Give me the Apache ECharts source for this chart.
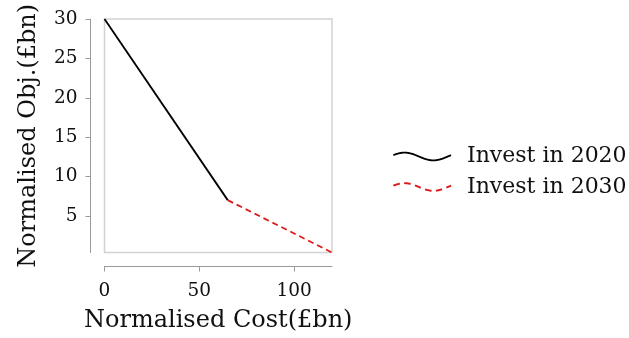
<!DOCTYPE html>
<html>
<head>
<meta charset="utf-8">
<script src="https://cdn.jsdelivr.net/npm/echarts@6/dist/echarts.min.js"></script>
<style>
  html, body { margin: 0; padding: 0; background: #ffffff; }
  #chart { width: 629px; height: 338px; }
</style>
</head>
<body>
<div id="chart"></div>
<script>
// Pareto front segments: normalised cost vs normalised objective
const cost2020 = [0, 65];
const obj2020 = [30, 7];
const cost2030 = [65, 120];
const obj2030 = [7, 0.35];

const seriesNames = ['Invest in 2020', 'Invest in 2030'];
const xTicks = [0, 50, 100];
const yTicks = [5, 10, 15, 20, 25, 30];

const FONT = 'DejaVu Serif';

function zip(xs, ys) {
  return xs.map((x, i) => [x, ys[i]]);
}

// Wavy legend glyph built as a filled ribbon (optionally broken into dashes).
// A trailing moveTo widens the bounding box to leave space before the label.
function wavePath(w, amp, thick, dash, gap, boxW) {
  const steps = 160;
  const pts = [];
  for (let i = 0; i <= steps; i++) {
    const t = i / steps;
    const x = t * w;
    const y = amp + thick / 2 - amp * Math.sin(2 * Math.PI * t + 0.35) * 0.95;
    pts.push([x, y]);
  }
  const len = [0];
  for (let i = 1; i < pts.length; i++) {
    const dx = pts[i][0] - pts[i - 1][0], dy = pts[i][1] - pts[i - 1][1];
    len.push(len[i - 1] + Math.hypot(dx, dy));
  }
  function ribbon(idx) {
    const top = [], bot = [];
    idx.forEach(i => {
      const a = pts[Math.max(i - 1, 0)], b = pts[Math.min(i + 1, pts.length - 1)];
      const dx = b[0] - a[0], dy = b[1] - a[1];
      const l = Math.hypot(dx, dy) || 1;
      const nx = -dy / l, ny = dx / l;
      top.push([pts[i][0] + nx * thick / 2, pts[i][1] + ny * thick / 2]);
      bot.push([pts[i][0] - nx * thick / 2, pts[i][1] - ny * thick / 2]);
    });
    const ring = top.concat(bot.reverse());
    return 'M' + ring.map(p => p[0].toFixed(2) + ' ' + p[1].toFixed(2)).join(' L') + ' Z';
  }
  let d = '';
  if (!dash) {
    d = ribbon(pts.map((_, i) => i));
  } else {
    const period = dash + gap;
    let cur = [];
    for (let i = 0; i < pts.length; i++) {
      const on = (len[i] % period) < dash;
      if (on) cur.push(i);
      if ((!on || i === pts.length - 1) && cur.length > 1) { d += ribbon(cur) + ' '; cur = []; }
      else if (!on) cur = [];
    }
  }
  d += ' M0 0 M' + boxW + ' ' + (2 * amp + thick);
  return 'path://' + d;
}

const chart = echarts.init(document.getElementById('chart'), null, { renderer: 'canvas' });

const axisGray = '#9a9a9a';

const option = {
  animation: false,
  backgroundColor: '#ffffff',
  grid: {
    left: 104.5,
    right: 297,
    top: 19,
    bottom: 85.5,
    show: true,
    borderColor: '#d2d2d2',
    borderWidth: 1.5,
    backgroundColor: 'transparent'
  },
  legend: {
    orient: 'vertical',
    left: 393,
    top: 145.5,
    padding: 0,
    itemGap: 8.5,
    itemWidth: 69,
    itemHeight: 10,
    symbolKeepAspect: false,
    itemStyle: { borderWidth: 0 },
    textStyle: { fontFamily: FONT, fontSize: 22, color: '#111111' },
    data: [
      { name: seriesNames[0], icon: wavePath(58, 4, 1.8, 0, 0, 69) },
      { name: seriesNames[1], icon: wavePath(58, 4, 1.9, 7, 4, 69) }
    ]
  },
  xAxis: {
    type: 'value',
    min: 0,
    max: 120,
    offset: 14,
    name: 'Normalised Cost(£bn)',
    nameLocation: 'middle',
    nameGap: 42,
    nameTextStyle: { fontFamily: FONT, fontSize: 24, color: '#111111' },
    axisLine: { show: true, onZero: false, lineStyle: { color: axisGray, width: 1 } },
    axisTick: { show: true, customValues: xTicks, length: 5, lineStyle: { color: axisGray, width: 1 } },
    axisLabel: {
      customValues: xTicks,
      margin: 15,
      fontFamily: FONT,
      fontSize: 18.5,
      color: '#111111'
    },
    splitLine: { show: false }
  },
  yAxis: {
    type: 'value',
    min: 0.35,
    max: 30,
    offset: 14,
    name: 'Normalised Obj.(£bn)',
    nameLocation: 'middle',
    nameGap: 50,
    nameTextStyle: { fontFamily: FONT, fontSize: 24, color: '#111111' },
    axisLine: { show: true, onZero: false, lineStyle: { color: axisGray, width: 1 } },
    axisTick: { show: true, customValues: yTicks, length: 5, lineStyle: { color: axisGray, width: 1 } },
    axisLabel: {
      customValues: yTicks,
      margin: 13,
      fontFamily: FONT,
      fontSize: 18.5,
      color: '#111111'
    },
    splitLine: { show: false }
  },
  series: [
    {
      name: seriesNames[0],
      type: 'line',
      data: zip(cost2020, obj2020),
      symbol: 'none',
      color: '#000000',
      lineStyle: { color: '#000000', width: 1.8 }
    },
    {
      name: seriesNames[1],
      type: 'line',
      data: zip(cost2030, obj2030),
      symbol: 'none',
      color: '#dd1a1a',
      lineStyle: { color: '#dd1a1a', width: 1.8, type: [6, 4] }
    }
  ]
};

chart.setOption(option);
</script>
</body>
</html>
